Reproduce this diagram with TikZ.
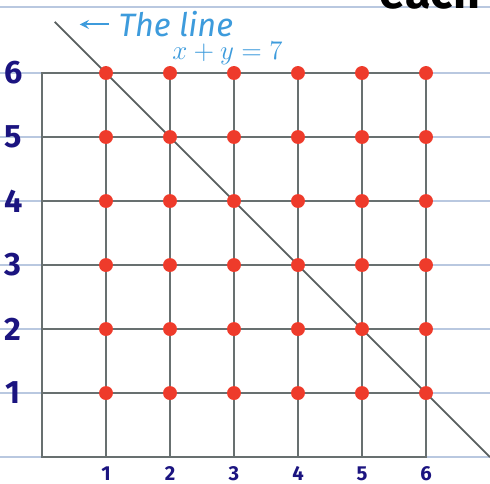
\documentclass[tikz,border=0pt]{standalone}
\usepackage{fontspec}
\setmainfont{Fira Sans}
\definecolor{ruled}{HTML}{B9C8E0}
\definecolor{gridgray}{HTML}{687070}
\definecolor{dotred}{HTML}{EE3B2B}
\definecolor{navy}{HTML}{1B1480}
\definecolor{pen}{HTML}{3D9BDC}
\tikzset{
  gdot/.style={circle, fill=dotred, inner sep=0pt, minimum size=6.2pt},
  numlbl/.style={text=navy, font=\bfseries\small, inner sep=0pt},
  pentext/.style={text=pen, font=\itshape\Large, inner sep=0pt}
}
\begin{document}
\begin{tikzpicture}[>=stealth]
\useasboundingbox (-0.656,-0.406) rectangle (7,7.141);

% ruled paper
\foreach \y in {0,1,2,3,4,5,6,7.03}
{
    \draw[ruled, line width=0.8pt](-0.656,\y)--(7,\y);
}

% grid
\draw[gridgray, line width=0.7pt](0,0) rectangle (6,6);
\foreach \x in {1,...,5}
{
    \draw[gridgray, line width=0.7pt](\x,0)--(\x,6);
    \draw[gridgray, line width=0.7pt](0,\x)--(6,\x);
}

% the line x+y=7
\coordinate (ltop) at (0.2,6.8);
\coordinate (lbot) at (7,0);
\draw[gridgray!85!black, line width=0.8pt](ltop)--(lbot);

\foreach \x in {1,...,6}
{
    \foreach \y in {1,...,6}
    {
        \node[gdot] (p\x\y) at (\x,\y) {};
    }
    \node[numlbl] (xl\x) at (\x,-0.26) {\x};
    \node[numlbl, font=\bfseries\Large] (yl\x) at (-0.45,\x) {\x};
}

\node[pentext, anchor=west] (lineA) at (1.19,6.76) {The line};
\node[pentext, font=\large] (lineB) at (2.9,6.3) {$x+y=7$};
\coordinate (tip) at (0.59,6.76);
\draw[->, pen, line width=0.8pt, shorten <=4pt](lineA.west)--(tip);

\node[font=\bfseries\huge, anchor=base, inner sep=0pt] (scrawl) at (6.06,7.01) {each};
\end{tikzpicture}
\end{document}
